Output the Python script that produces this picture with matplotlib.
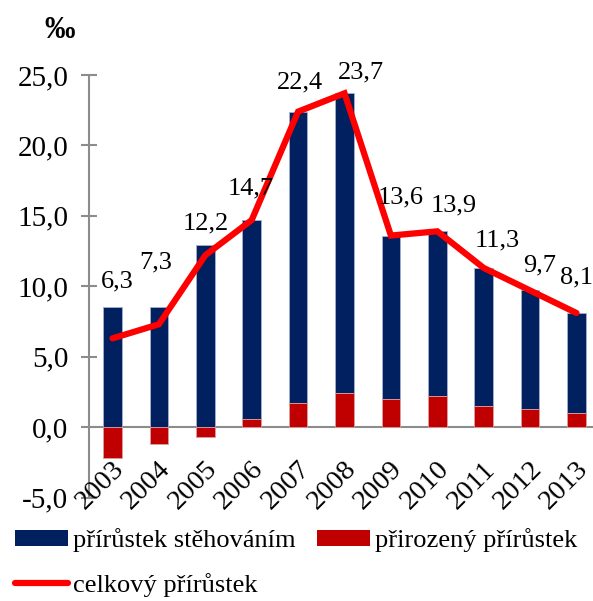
import matplotlib
matplotlib.use("Agg")
import matplotlib.pyplot as plt
import numpy as np
from matplotlib.patches import Patch
from matplotlib.lines import Line2D

# Data (‰)
years = ["2003", "2004", "2005", "2006", "2007", "2008",
         "2009", "2010", "2011", "2012", "2013"]
migration = [8.5, 8.5, 12.9, 14.1, 20.7, 21.3, 11.6, 11.7, 9.8, 8.4, 7.1]
natural = [-2.2, -1.2, -0.7, 0.6, 1.7, 2.4, 2.0, 2.2, 1.5, 1.3, 1.0]
total = [6.3, 7.3, 12.2, 14.7, 22.4, 23.7, 13.6, 13.9, 11.3, 9.7, 8.1]
yticks = [-5, 0, 5, 10, 15, 20, 25]

# label offsets (pixels) relative to line points
label_offsets = [(5, 57), (-3, 62), (0, 32), (-1, 32), (2, 29), (16, 21),
                 (10, 38), (16, 26), (14, 27), (10, 25), (0, 36)]

NAVY = "#002060"
DARKRED = "#C00000"
RED = "#FF0000"
GREY = "#8C8C8C"

plt.rcParams["font.family"] = ["Liberation Serif", "DejaVu Serif"]

fig = plt.figure(figsize=(5.93, 6.01), dpi=100)
ax = fig.add_axes([89.3 / 593, 1 - 497.5 / 601, 510.4 / 593, 422.5 / 601])

x = np.arange(len(years))
mig = np.array(migration)
nat = np.array(natural)
# natural increase stacks on top of migration when positive, below zero when negative
mig_bottom = np.where(nat > 0, nat, 0)

ax.bar(x, mig, bottom=mig_bottom, width=0.4, color=NAVY,
       edgecolor="#A6B0CC", linewidth=0.6, zorder=2)
ax.bar(x, nat, width=0.4, color=DARKRED,
       edgecolor="#D9A0A0", linewidth=0.6, zorder=2)
ax.plot(x, total, color=RED, linewidth=4.5, solid_capstyle="round",
        solid_joinstyle="miter", zorder=3)

for xi, val, (dx, dy) in zip(x, total, label_offsets):
    ax.annotate(f"{val:.1f}".replace(".", ","), (xi, val),
                xytext=(dx, dy), textcoords="offset pixels",
                ha="center", va="center", fontsize=19, zorder=4)

ax.axhline(0, color=GREY, linewidth=1.5, zorder=1)

ax.set_xlim(-0.5, 10.5)
ax.set_ylim(-5, 25)
ax.set_yticks(yticks)
ax.set_yticklabels([f"{v:.1f}".replace(".", ",") for v in yticks])
ax.tick_params(axis="y", direction="inout", length=11, width=1.5,
               color=GREY, labelsize=21, pad=9.5)
ax.set_xticks([])
for side in ["top", "right", "bottom"]:
    ax.spines[side].set_visible(False)
ax.spines["left"].set_color(GREY)
ax.spines["left"].set_linewidth(1.5)

for xi, yr in zip(x, years):
    ax.text(xi - 0.02, -2.1, yr, rotation=45, rotation_mode="anchor",
            ha="right", va="top", fontsize=20.5)

fig.text(60 / 593, 1 - 31 / 601, "‰", fontsize=22, fontweight="bold",
         ha="center", va="center")

handles = [Patch(facecolor=NAVY), Line2D([], [], color=RED, linewidth=4.5,
                                         solid_capstyle="round"),
           Patch(facecolor=DARKRED)]
labels = ["přírůstek stěhováním", "celkový přírůstek", "přirozený přírůstek"]
fig.legend(handles, labels, loc="upper left", bbox_to_anchor=(15 / 593, 1 - 528 / 601),
           ncol=2, frameon=False, fontsize=19, handlelength=2.0,
           handleheight=0.55, handletextpad=0.2, columnspacing=0.8,
           labelspacing=0.8, borderpad=0, borderaxespad=0)

fig.savefig("out.png", dpi=100)
